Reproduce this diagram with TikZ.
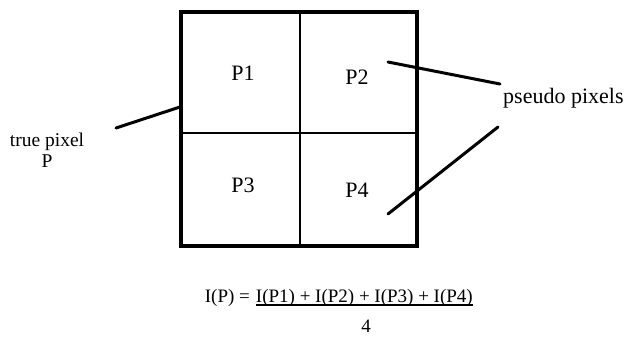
\documentclass[tikz,border=0pt]{standalone}
\usepackage{fontspec}
\setmainfont{Liberation Serif}
\begin{document}
\begin{tikzpicture}[x=1pt,y=-1pt,
  lbl/.style={font=\fontsize{22}{26}\selectfont, inner sep=0pt},
  side/.style={font=\fontsize{19.5}{23}\selectfont, inner sep=0pt},
  eq/.style={font=\fontsize{19}{23}\selectfont, inner sep=0pt},
  frame/.style={line width=4.5pt},
  divider/.style={line width=1.8pt},
  pointer/.style={line width=3pt, line cap=round}]
\useasboundingbox (0,0) rectangle (636,340);
% pixel square
\draw[frame] (181,12) rectangle (417,246);
\draw[divider] (300,12) -- (300,246);
\draw[divider] (181,133) -- (417,133);
% pseudo pixel labels
\node[lbl] (p1) at (243,73) {P1};
\node[lbl] (p2) at (357,77) {P2};
\node[lbl] (p3) at (243,185) {P3};
\node[lbl] (p4) at (357,190) {P4};
% left label
\node[side] (tp) at (47,142) {true pixel};
\node[side] (tpP) at (47,161) {P};
\coordinate (tpA) at (116,128);
\coordinate (tpB) at (180,107);
\draw[pointer] (tpA) -- (tpB);
% right label
\node[lbl, anchor=west] (ps) at (503,98) {pseudo pixels};
\coordinate (p2A) at (388,62);
\coordinate (p2B) at (500,84);
\coordinate (p4A) at (388,214);
\coordinate (p4B) at (498,127);
\draw[pointer] (p2A) -- (p2B);
\draw[pointer] (p4A) -- (p4B);
% formula
\node[eq, anchor=base east] (num) at (473,302) {I(P1) + I(P2) + I(P3) + I(P4)};
\node[eq, anchor=base east] (lhs) at (num.base west) {I(P) =\kern0.3em};
\draw[line width=1.1pt] ([yshift=-3pt]num.base west) -- ([yshift=-3pt]num.base east);
\node[eq, anchor=base] (four) at (366,332) {4};
\end{tikzpicture}
\end{document}
